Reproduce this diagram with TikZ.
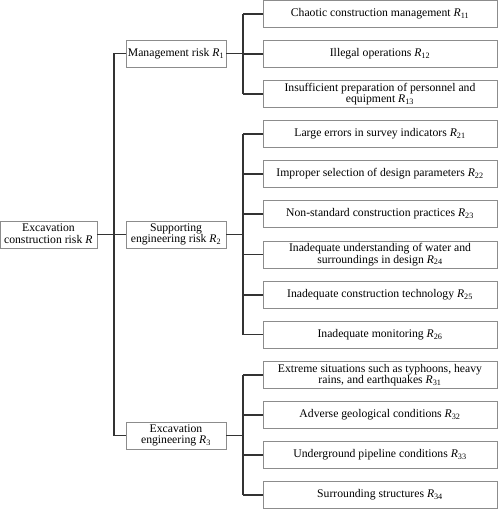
\documentclass[tikz,border=0pt]{standalone}
\usepackage{fontspec}
\setmainfont{Liberation Serif}
\newcommand{\riskid}[1]{\textit{R}\textsubscript{#1}}
\begin{document}
\begin{tikzpicture}[x=1pt,y=-1pt,
  box/.style={draw=black!45,line width=0.7pt,fill=white,align=center,
    inner sep=0pt,minimum height=27pt,font=\fontsize{11.7}{11.6}\selectfont},
  rootbox/.style={box,minimum width=97pt},
  midbox/.style={box,minimum width=100pt},
  leafbox/.style={box,minimum width=234pt},
  link/.style={draw=black!80,line width=1.1pt}]
  \useasboundingbox (0,0) rectangle (498,510);
  % root and first level
  \node[rootbox] (root) at (48.5,234.5) {Excavation\\construction risk \riskid{}};
  \node[midbox] (m1) at (176,53.5) {Management risk \riskid{1}};
  \node[midbox] (m2) at (176,234.5) {Supporting\\engineering risk \riskid{2}};
  \node[midbox] (m3) at (176,435.5) {Excavation\\engineering \riskid{3}};
  % second level
  \node[leafbox] (a11) at (380,14) {Chaotic construction management \riskid{11}};
  \node[leafbox] (a12) at (380,54) {Illegal operations \riskid{12}};
  \node[leafbox] (a13) at (380,94) {Insufficient preparation of personnel and\\equipment \riskid{13}};
  \node[leafbox] (a21) at (380,134) {Large errors in survey indicators \riskid{21}};
  \node[leafbox] (a22) at (380,174) {Improper selection of design parameters \riskid{22}};
  \node[leafbox] (a23) at (380,214) {Non-standard construction practices \riskid{23}};
  \node[leafbox] (a24) at (380,254.5) {Inadequate understanding of water and\\surroundings in design \riskid{24}};
  \node[leafbox] (a25) at (380,295) {Inadequate construction technology \riskid{25}};
  \node[leafbox] (a26) at (380,334.5) {Inadequate monitoring \riskid{26}};
  \node[leafbox] (a31) at (380,375) {Extreme situations such as typhoons, heavy\\rains, and earthquakes \riskid{31}};
  \node[leafbox] (a32) at (380,415) {Adverse geological conditions \riskid{32}};
  \node[leafbox] (a33) at (380,455) {Underground pipeline conditions \riskid{33}};
  \node[leafbox] (a34) at (380,495) {Surrounding structures \riskid{34}};
  % connectors
  \coordinate (t) at (114,0);
  \coordinate (g) at (243,0);
  \draw[link] (root.east) -- (root.east -| t);
  \draw[link] (m1.west) -- (m1.west -| t) -- (m3.west -| t) -- (m3.west);
  \draw[link] (m2.west) -- (m2.west -| t);
  \draw[link] (a11.west -| g) -- (a13.west -| g);
  \draw[link] (a21.west -| g) -- (a26.west -| g);
  \draw[link] (a31.west -| g) -- (a34.west -| g);
  \foreach \m in {m1,m2,m3}
    \draw[link] (\m.east) -- (\m.east -| g);
  \foreach \a in {a11,a12,a13,a21,a22,a23,a24,a25,a26,a31,a32,a33,a34}
    \draw[link] (\a.west) -- (\a.west -| g);
\end{tikzpicture}
\end{document}
